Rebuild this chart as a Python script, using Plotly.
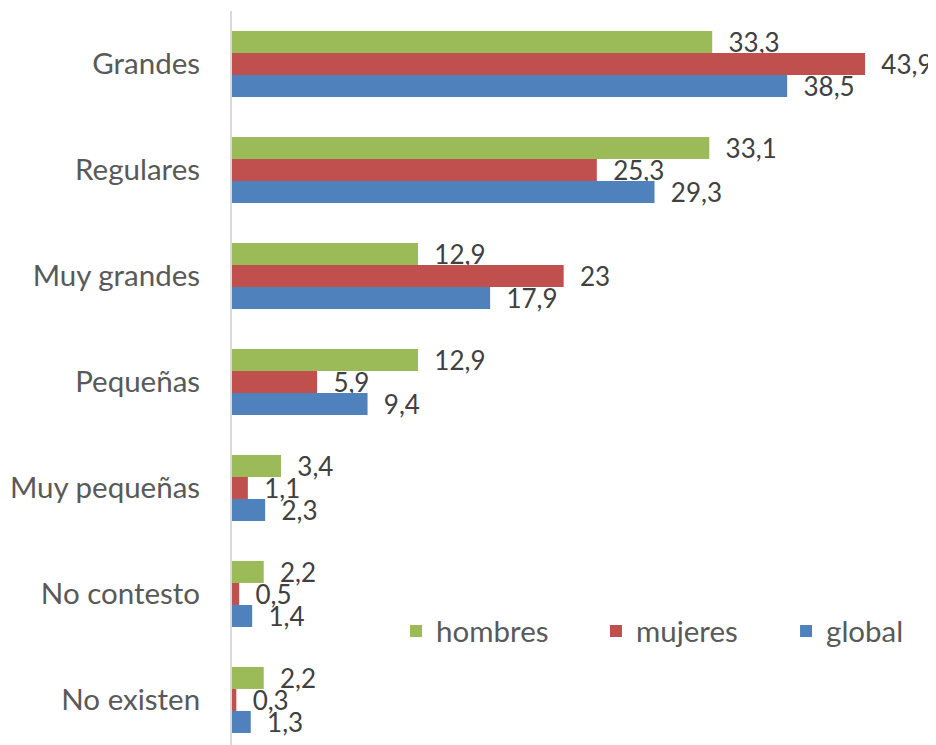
import plotly.graph_objects as go

categories = ["Grandes", "Regulares", "Muy grandes", "Pequeñas", "Muy pequeñas", "No contesto", "No existen"]
hombres = [33.3, 33.1, 12.9, 12.9, 3.4, 2.2, 2.2]
mujeres = [43.9, 25.3, 23, 5.9, 1.1, 0.5, 0.3]
global_ = [38.5, 29.3, 17.9, 9.4, 2.3, 1.4, 1.3]
series_names = ["hombres", "mujeres", "global"]
colors = ["#9BBB59", "#C0504D", "#4F81BD"]

FONT = "Lato"
FS = 29.5
FS_LBL = 26

def fmt(v):
    return "\u00a0\u00a0" + ("%g" % v).replace(".", ",")

legend_ids = ["legend", "legend2", "legend3"]
legend_x = [0.233, 0.517, 0.787]

fig = go.Figure()
for name, vals, col, lg in zip(series_names, [hombres, mujeres, global_], colors, legend_ids):
    fig.add_trace(go.Bar(
        y=categories, x=vals, name=name, orientation="h",
        marker=dict(color=col, line=dict(width=0)),
        text=[fmt(v) for v in vals], textposition="outside",
        textfont=dict(family=FONT, size=FS_LBL, color="#404040"),
        constraintext="none", cliponaxis=False, legend=lg,
    ))

fig.add_annotation(text="M", xref="paper", yref="paper", x=0.984, y=0.364,
                   xanchor="left", yanchor="middle", showarrow=False,
                   font=dict(family=FONT, size=FS, color="#595959"))

leg_common = dict(orientation="h", y=0.155, xanchor="left", yanchor="middle",
                  font=dict(family=FONT, size=FS, color="#595959"),
                  bgcolor="rgba(0,0,0,0)")

# page body has an 8px default margin: the figure is sized/placed to compensate
fig.update_layout(
    width=928, height=737,
    margin=dict(l=224, r=0, t=3, b=0),
    paper_bgcolor="white", plot_bgcolor="white",
    barmode="group", bargap=0.377, bargroupgap=0,
    showlegend=True,
    legend=dict(x=legend_x[0], **leg_common),
    legend2=dict(x=legend_x[1], **leg_common),
    legend3=dict(x=legend_x[2], **leg_common),
    xaxis=dict(range=[0, 48.82], showgrid=False, zeroline=False, showticklabels=False,
               showline=False, ticks="", automargin=False),
    yaxis=dict(categoryorder="array", categoryarray=categories, range=[6.425, -0.5],
               showgrid=False, zeroline=False, showline=True, linecolor="#D9D9D9", linewidth=2,
               ticks="", ticklabelstandoff=24, automargin=False,
               tickfont=dict(family=FONT, size=FS, color="#595959")),
    font=dict(family=FONT),
)

fig.write_html("out.html")
